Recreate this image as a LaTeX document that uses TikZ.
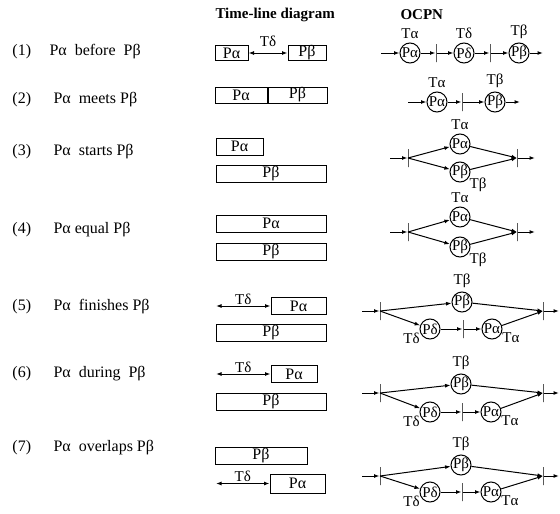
\documentclass[tikz,border=0pt]{standalone}
\usepackage{fontspec}
\setmainfont{Liberation Serif}
\usetikzlibrary{positioning,arrows.meta}

\begin{document}
\begin{tikzpicture}[
    x=1pt, y=-1pt,
    line width=1pt,
    >={Latex[length=5.5pt,width=4pt]},
    every node/.style={font=\fontsize{15}{17}\selectfont},
    head/.style={font=\fontsize{15}{17}\selectfont\bfseries, anchor=west, inner sep=0pt},
    row/.style={font=\fontsize{16}{18}\selectfont, anchor=west, inner sep=0pt},
    box/.style={rectangle, draw, minimum height=17pt, inner sep=0pt, font=\fontsize{16}{18}\selectfont},
    place/.style={circle, draw, minimum size=20pt, inner sep=-2pt},
    trans/.style={rectangle, draw, minimum width=0pt, minimum height=18pt, inner sep=0pt},
    tlab/.style={inner sep=0pt},
    dlab/.style={above, inner sep=1pt}
]
  \useasboundingbox (0,0) rectangle (560,514);

  % Headings
  \node[head] (h1) at (215,15) {Time-line diagram};
  \node[head] (h2) at (400,15) {OCPN};

  % Relations
  \node[row] (n1) at (12,52) {(1)};
  \node[row] (r1) at (49,52) {Pα\ \ before\ \ Pβ};
  \node[row] (n2) at (12,100) {(2)};
  \node[row] (r2) at (53,100) {Pα\ \ meets Pβ};
  \node[row] (n3) at (12,152) {(3)};
  \node[row] (r3) at (53,152) {Pα\ \ starts Pβ};
  \node[row] (n4) at (12,230) {(4)};
  \node[row] (r4) at (53,230) {Pα equal Pβ};
  \node[row] (n5) at (12,307) {(5)};
  \node[row] (r5) at (53,307) {Pα\ \ finishes Pβ};
  \node[row] (n6) at (12,374) {(6)};
  \node[row] (r6) at (53,374) {Pα\ \ during\ \ Pβ};
  \node[row] (n7) at (12,448) {(7)};
  \node[row] (r7) at (53,448) {Pα\ \ overlaps Pβ};

  % Time-line diagram
  \node[box, minimum width=33pt, minimum height=15pt] (a1) at (231.5,53) {Pα};
  \node[box, minimum width=38pt, minimum height=15pt] (b1) at (307,53) {Pβ};
  \draw[<->] (a1) -- node[dlab, above=5pt] {Tδ} (b1);

  \node[box, minimum width=52pt, minimum height=16pt] (a2) at (241,95) {Pα};
  \node[box, minimum width=59pt, minimum height=16pt, right=0pt of a2] (b2) {Pβ};

  \node[box, minimum width=47pt] (a3) at (239.5,146.5) {Pα};
  \node[box, minimum width=110pt] (b3) at (271,173.5) {Pβ};

  \node[box, minimum width=110pt] (a4) at (271,223.5) {Pα};
  \node[box, minimum width=110pt] (b4) at (271,252) {Pβ};

  \coordinate (s5) at (216,306);
  \node[box, minimum width=55pt] (a5) at (298.5,306) {Pα};
  \node[box, minimum width=110pt] (b5) at (271,333) {Pβ};
  \draw[<->] (s5) -- node[dlab] {Tδ} (a5);

  \coordinate (s6) at (216,374);
  \node[box, minimum width=46pt] (a6) at (294,374) {Pα};
  \node[box, minimum width=110pt] (b6) at (271,402) {Pβ};
  \draw[<->] (s6) -- node[dlab] {Tδ} (a6);

  \node[box, minimum width=92pt] (b7) at (261,456) {Pβ};
  \coordinate (s7) at (216,483.5);
  \node[box, minimum width=55pt, minimum height=19pt] (a7) at (297.5,483.5) {Pα};
  \draw[<->] (s7) -- node[dlab] {Tδ} (a7);

  % OCPN (1)
  \coordinate (i1) at (381,53);
  \node[place, label=above:Tα] (pa1) at (410,53) {Pα};
  \node[trans] (t11) at (436,53) {};
  \node[place, label=above:Tδ] (pd1) at (464,53) {Pδ};
  \node[trans] (t12) at (490,53) {};
  \node[place, label=above:Tβ] (pb1) at (519,53) {Pβ};
  \coordinate (o1) at (543,53);
  \draw[->] (i1) -- (pa1);
  \draw[->] (pa1) -- (t11);
  \draw[->] (t11) -- (pd1);
  \draw[->] (pd1) -- (t12);
  \draw[->] (t12) -- (pb1);
  \draw[->] (pb1) -- (o1);

  % OCPN (2)
  \coordinate (i2) at (408,102);
  \node[place, label=above:Tα] (pa2) at (437,102) {Pα};
  \node[trans] (t21) at (462,102) {};
  \node[place, label=above:Tβ] (pb2) at (495,102) {Pβ};
  \coordinate (o2) at (520,102);
  \draw[->] (i2) -- (pa2);
  \draw[->] (pa2) -- (t21);
  \draw[->] (t21) -- (pb2);
  \draw[->] (pb2) -- (o2);

  % OCPN (3)
  \coordinate (i3) at (390,158);
  \node[trans] (t31) at (408,158) {};
  \node[place, label=above:Tα] (pa3) at (460,144) {Pα};
  \node[place, label={[tlab]-30:Tβ}] (pb3) at (460,172) {Pβ};
  \node[trans] (t32) at (517,158) {};
  \coordinate (o3) at (535,158);
  \draw[->] (i3) -- (t31);
  \draw[->] (t31.center) -- (pa3);
  \draw[->] (t31.center) -- (pb3);
  \draw[->] (pa3) -- (t32.center);
  \draw[->] (pb3) -- (t32.center);
  \draw[->] (t32) -- (o3);

  % OCPN (4)
  \coordinate (i4) at (390,232);
  \node[trans] (t41) at (408,232) {};
  \node[place, label=above:Tα] (pa4) at (460,217) {Pα};
  \node[place, label={[tlab]-30:Tβ}] (pb4) at (460,247) {Pβ};
  \node[trans] (t42) at (517,232) {};
  \coordinate (o4) at (535,232);
  \draw[->] (i4) -- (t41);
  \draw[->] (t41.center) -- (pa4);
  \draw[->] (t41.center) -- (pb4);
  \draw[->] (pa4) -- (t42.center);
  \draw[->] (pb4) -- (t42.center);
  \draw[->] (t42) -- (o4);

  % OCPN (5)
  \coordinate (i5) at (362,311);
  \node[trans] (t51) at (380,311) {};
  \node[place, label=above:Tβ] (pb5) at (462,302) {Pβ};
  \node[place, label={[tlab]-160:Tδ}] (pd5) at (430,329) {Pδ};
  \node[trans] (t52) at (463,329) {};
  \node[place, label={[tlab]-20:Tα}] (pa5) at (492,329) {Pα};
  \node[trans] (t53) at (543,311) {};
  \coordinate (o5) at (559,311);
  \draw[->] (i5) -- (t51);
  \draw[->] (t51.center) -- (pb5);
  \draw[->] (t51.center) -- (pd5);
  \draw[->] (pd5) -- (t52);
  \draw[->] (t52) -- (pa5);
  \draw[->] (pb5) -- (t53.center);
  \draw[->] (pa5) -- (t53.center);
  \draw[->] (t53) -- (o5);

  % OCPN (6)
  \coordinate (i6) at (362,393);
  \node[trans] (t61) at (380,393) {};
  \node[place, label=above:Tβ] (pb6) at (461,384) {Pβ};
  \node[place, label={[tlab]-160:Tδ}] (pd6) at (430,412) {Pδ};
  \node[trans] (t62) at (462,412) {};
  \node[place, label={[tlab]-20:Tα}] (pa6) at (491,412) {Pα};
  \node[trans] (t63) at (543,393) {};
  \coordinate (o6) at (559,393);
  \draw[->] (i6) -- (t61);
  \draw[->] (t61.center) -- (pb6);
  \draw[->] (t61.center) -- (pd6);
  \draw[->] (pd6) -- (t62);
  \draw[->] (t62) -- (pa6);
  \draw[->] (pb6) -- (t63.center);
  \draw[->] (pa6) -- (t63.center);
  \draw[->] (t63) -- (o6);

  % OCPN (7)
  \coordinate (i7) at (362,476);
  \node[trans] (t71) at (380,476) {};
  \node[place, label=above:Tβ] (pb7) at (461,465) {Pβ};
  \node[place, label={[tlab]-160:Tδ}] (pd7) at (430,492) {Pδ};
  \node[trans] (t72) at (462,492) {};
  \node[place, label={[tlab]-20:Tα}] (pa7) at (491,492) {Pα};
  \node[trans] (t73) at (543,476) {};
  \coordinate (o7) at (559,476);
  \draw[->] (i7) -- (t71);
  \draw[->] (t71.center) -- (pb7);
  \draw[->] (t71.center) -- (pd7);
  \draw[->] (pd7) -- (t72);
  \draw[->] (t72) -- (pa7);
  \draw[->] (pb7) -- (t73.center);
  \draw[->] (pa7) -- (t73.center);
  \draw[->] (t73) -- (o7);
\end{tikzpicture}
\end{document}
